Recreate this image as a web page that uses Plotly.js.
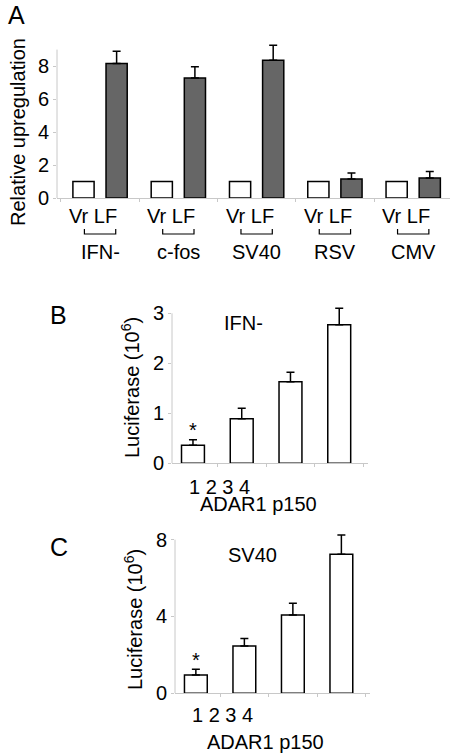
<!DOCTYPE html>
<html>
<head>
<meta charset="utf-8">
<script src="https://cdn.plot.ly/plotly-3.0.1.min.js"></script>
<style>html,body{margin:0;padding:0;background:#fff;}#chart{width:450px;height:756px;}</style>
</head>
<body>
<div id="chart"></div>
<script>
// Panel A data
const groupsA = ['IFN-', 'c-fos', 'SV40', 'RSV', 'CMV'];
const vrA = [1, 1, 1, 1, 1];
const lfA = [8.16, 7.27, 8.36, 1.15, 1.21];
const lfErrA = [0.74, 0.69, 0.91, 0.37, 0.39];
const pairLabel = 'Vr LF';

// Panel B data (IFN-)
const doseLabels = ['1', '2', '3', '4'];
const lucB = [0.36, 0.89, 1.63, 2.77];
const lucErrB = [0.11, 0.21, 0.19, 0.33];

// Panel C data (SV40)
const lucC = [0.95, 2.46, 4.08, 7.24];
const lucErrC = [0.30, 0.40, 0.61, 1.00];

const FONT = 'Liberation Sans, Arial, sans-serif';
const AXC = '#c8c8c8';
const py = p => 1 - p / 756;
const px = p => p / 450;

const zeros = a => a.map(() => 0);

const traces = [
  {type: 'bar', x: groupsA, y: vrA, name: 'Vr', xaxis: 'x', yaxis: 'y',
   marker: {color: '#ffffff', line: {color: '#000', width: 1.5}}},
  {type: 'bar', x: groupsA, y: lfA, name: 'LF', xaxis: 'x', yaxis: 'y',
   marker: {color: '#666666', line: {color: '#000', width: 1.5}},
   error_y: {type: 'data', symmetric: false, array: lfErrA, arrayminus: zeros(lfErrA),
             color: '#000', thickness: 1.5, width: 4}},
  {type: 'bar', x: doseLabels, y: lucB, xaxis: 'x2', yaxis: 'y2', width: 0.47,
   marker: {color: '#ffffff', line: {color: '#000', width: 1.5}},
   error_y: {type: 'data', symmetric: false, array: lucErrB, arrayminus: zeros(lucErrB),
             color: '#000', thickness: 1.5, width: 4}},
  {type: 'bar', x: doseLabels, y: lucC, xaxis: 'x3', yaxis: 'y3', width: 0.47,
   marker: {color: '#ffffff', line: {color: '#000', width: 1.5}},
   error_y: {type: 'data', symmetric: false, array: lucErrC, arrayminus: zeros(lucErrC),
             color: '#000', thickness: 1.5, width: 4}}
];

const xBase = {type: 'category', showticklabels: false, showline: true, linecolor: AXC, linewidth: 1,
  ticks: 'outside', tickson: 'boundaries', ticklen: 3, tickcolor: AXC, showgrid: false, zeroline: false, fixedrange: true};
const yBase = {showline: false, showgrid: false, zeroline: false, ticks: 'outside', ticklen: 3, tickcolor: AXC,
  tickfont: {family: FONT, size: 20, color: '#000'}, fixedrange: true};

const annotations = [];
const shapes = [];
function ann(text, x, y, opts) {
  annotations.push(Object.assign({text: text, x: x, y: y, xref: 'paper', yref: 'paper', showarrow: false,
    xanchor: 'center', yanchor: 'middle', font: {family: FONT, size: 20, color: '#000'}}, opts || {}));
}

// Panel A labels
ann('A', px(16.5), py(15), {font: {family: FONT, size: 25, color: '#000'}});
ann('Relative upregulation', px(18), py(132), {textangle: -90});
groupsA.forEach((g, i) => {
  ann(pairLabel, i, py(216), {xref: 'x', xshift: -7});
  ann(g, i, py(252), {xref: 'x'});
  shapes.push({type: 'path', xref: 'x', yref: 'paper',
    path: 'M ' + (i - 0.2) + ' ' + py(229) + ' L ' + (i - 0.2) + ' ' + py(234) +
          ' L ' + (i + 0.2) + ' ' + py(234) + ' L ' + (i + 0.2) + ' ' + py(229),
    line: {color: '#000', width: 1.2}});
});
// y axis lines (stop at last tick)
shapes.push({type: 'line', xref: 'x domain', yref: 'y', x0: 0, x1: 0, y0: 0, y1: 9, line: {color: AXC, width: 1}});
shapes.push({type: 'line', xref: 'x2 domain', yref: 'y2', x0: 0, x1: 0, y0: 0, y1: 3, line: {color: AXC, width: 1}});
shapes.push({type: 'line', xref: 'x3 domain', yref: 'y3', x0: 0, x1: 0, y0: 0, y1: 8, line: {color: AXC, width: 1}});

// Panel B labels
ann('B', px(58.5), py(315), {font: {family: FONT, size: 25, color: '#000'}});
ann('IFN-', px(243), py(323));
ann('Luciferase (10<sup>6</sup>)', px(130), py(388), {textangle: -90});
ann('*', 0, py(430), {xref: 'x2'});
ann(doseLabels.join(' '), px(219), py(487));
ann('ADAR1 p150', px(258), py(503.5));

// Panel C labels
ann('C', px(58.5), py(547), {font: {family: FONT, size: 25, color: '#000'}});
ann('SV40', px(252), py(555));
ann('Luciferase (10<sup>6</sup>)', px(133), py(620), {textangle: -90});
ann('*', 0, py(660), {xref: 'x3'});
ann(doseLabels.join(' '), px(222), py(715));
ann('ADAR1 p150', px(265), py(741.5));

const layout = {
  width: 450, height: 756,
  margin: {l: 0, r: 0, t: 0, b: 0},
  paper_bgcolor: '#fff', plot_bgcolor: '#fff',
  showlegend: false,
  barmode: 'group', bargap: 0.154, bargroupgap: 0.36,
  font: {family: FONT, size: 20, color: '#000'},
  xaxis: Object.assign({}, xBase, {domain: [px(57), 1], range: [-0.55, 4.47], anchor: 'y'}),
  yaxis: Object.assign({}, yBase, {domain: [py(198), py(43)], range: [0, 9.4], tickvals: [0, 2, 4, 6, 8], anchor: 'x'}),
  xaxis2: Object.assign({}, xBase, {domain: [px(172), px(368)], range: [-0.43, 3.59], anchor: 'y2'}),
  yaxis2: Object.assign({}, yBase, {domain: [py(463.3), py(305.8)], range: [0, 3.15], tickvals: [0, 1, 2, 3], anchor: 'x2'}),
  xaxis3: Object.assign({}, xBase, {domain: [px(175), px(370)], range: [-0.43, 3.59], anchor: 'y3'}),
  yaxis3: Object.assign({}, yBase, {domain: [py(693.3), py(532)], range: [0, 8.4], tickvals: [0, 4, 8], anchor: 'x3'}),
  annotations: annotations,
  shapes: shapes
};

Plotly.newPlot('chart', traces, layout, {staticPlot: true, displayModeBar: false});
</script>
</body>
</html>
